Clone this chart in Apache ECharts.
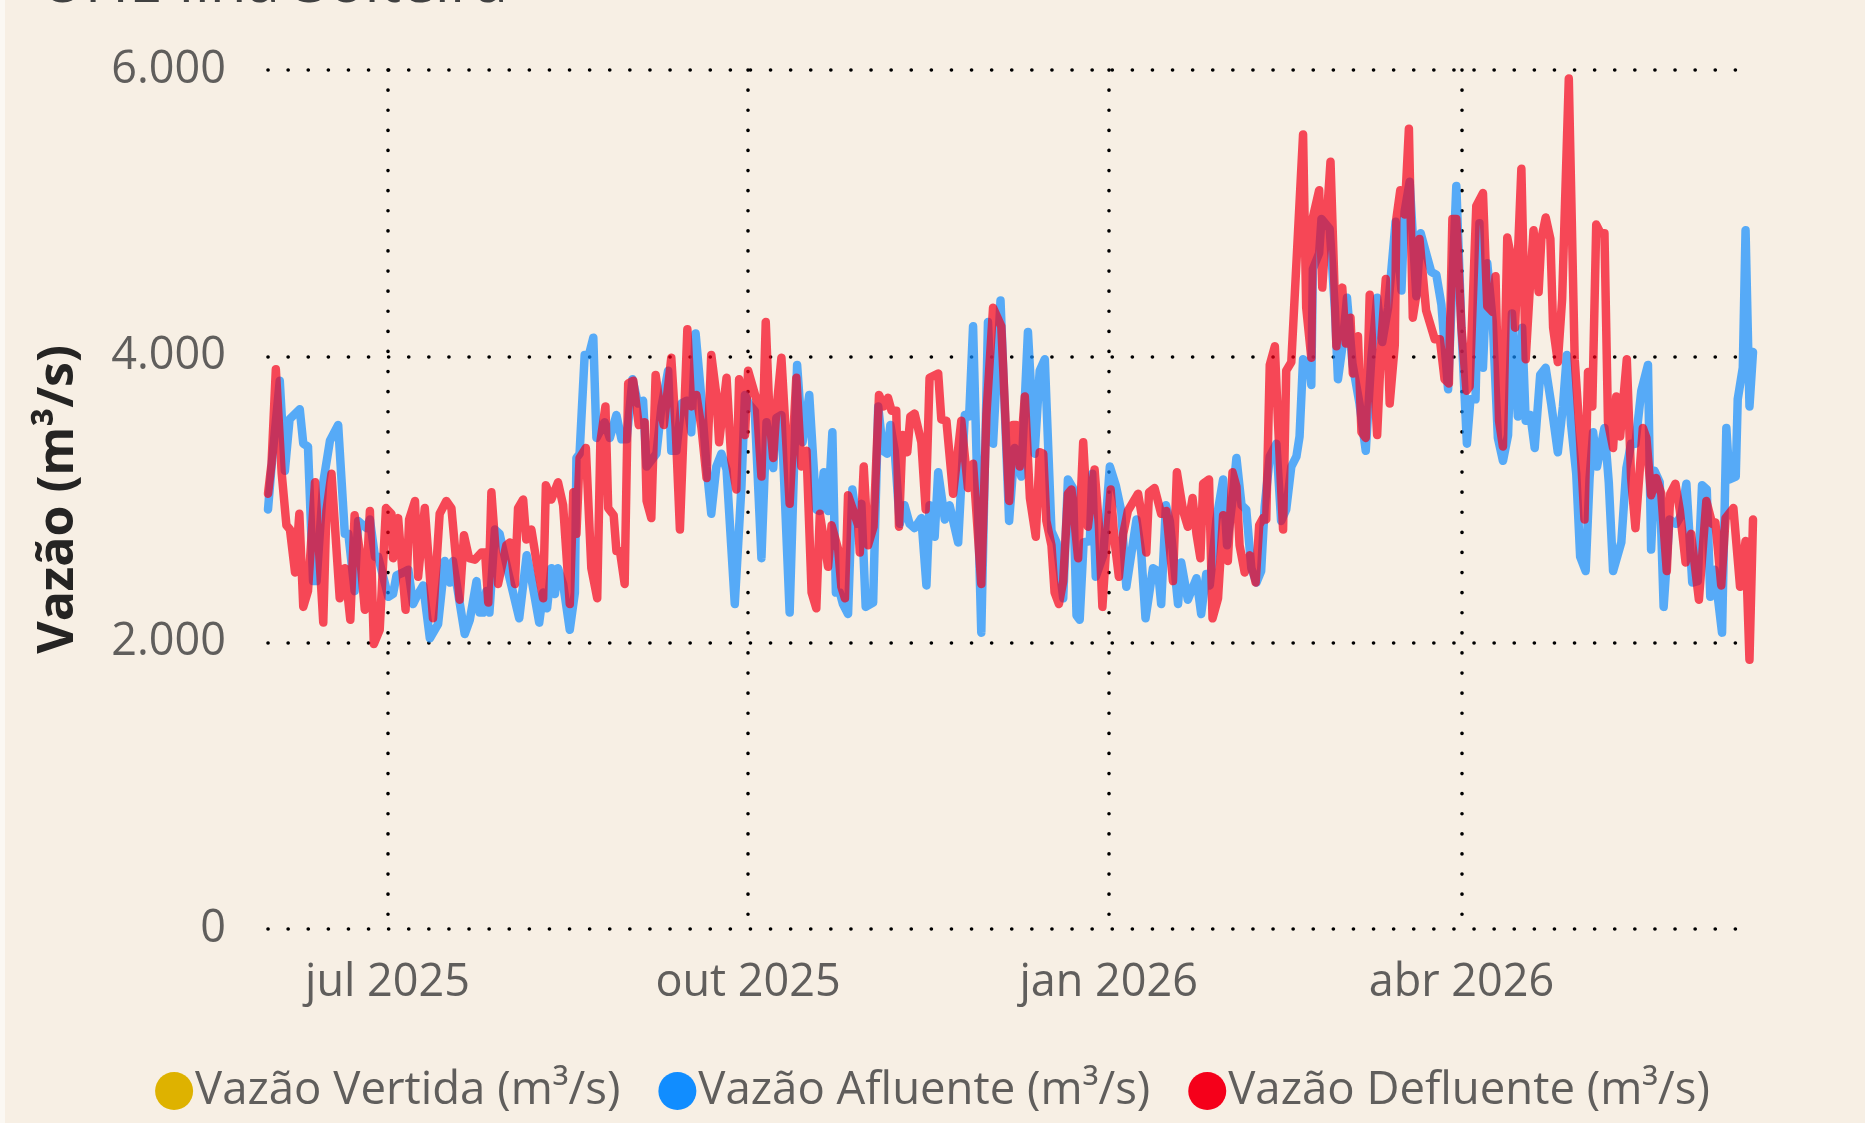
<!DOCTYPE html>
<html>
<head>
<meta charset="utf-8">
<title>UHE Ilha Solteira</title>
<script src="https://cdn.jsdelivr.net/npm/echarts@6/dist/echarts.min.js"></script>
<style>
  html, body { margin: 0; padding: 0; background: #F7EFE4; }
  #grafico { width: 1865px; height: 1123px; }
</style>
</head>
<body>
<div id="grafico"></div>
<script>
// dia 0 = 1 jul 2025; cada par é [dias desde dia 0, vazão m³/s]
const inicio = new Date(2025, 6, 1).getTime()
const DIA = 86400000
const diaDe = d => Math.round((d.getTime() - inicio) / DIA)

const marcosX = [diaDe(new Date(2025, 6, 1)), diaDe(new Date(2025, 9, 1)), diaDe(new Date(2026, 0, 1)), diaDe(new Date(2026, 3, 1))]
const rotulosX = ['jul 2025', 'out 2025', 'jan 2026', 'abr 2026']
const ticksY = [0, 2000, 4000, 6000]

const vertida = [] // sem vertimento no período

const afluente = [
  [-30.5, 2930], [-29.6, 3230], [-27.5, 3830], [-26.2, 3200], [-25, 3560], [-22.4, 3630], [-21.5, 3390], [-20.3, 3370],
  [-19, 2430], [-18.1, 2430], [-16.4, 3120], [-14.7, 3410], [-12.6, 3520], [-10.9, 2760], [-10, 2760], [-8.4, 2360],
  [-7.5, 2850], [-5.4, 2800], [-4.5, 2860], [-3.2, 2600], [-2.4, 2600], [0.2, 2320], [1.4, 2340], [2.3, 2470],
  [4, 2490], [5.3, 2510], [6.5, 2270], [7.4, 2320], [9.1, 2400], [10.8, 2030], [12.9, 2130], [14.6, 2570],
  [15.9, 2420], [16.7, 2570], [19.7, 2060], [21, 2160], [22.7, 2430], [23.5, 2210], [24.4, 2210], [25.2, 2360],
  [26, 2210], [27.4, 2790], [28.6, 2760], [29.9, 2600], [30.8, 2490], [33.6, 2170], [35.5, 2610], [36.7, 2450],
  [38.7, 2140], [39.7, 2350], [40.7, 2240], [41.8, 2520], [42.7, 2340], [43.5, 2520], [44.8, 2410], [46.5, 2090],
  [47.8, 2350], [48.2, 3290], [49, 3320], [50.3, 4010], [51.4, 4010], [52.5, 4130], [53.3, 3430], [55.4, 3540],
  [56.7, 3430], [58.4, 3590], [59.7, 3420], [61, 3420], [62.5, 3840], [63.9, 3670], [65.2, 3690], [66.1, 3230],
  [68.6, 3320], [69.9, 3650], [71.6, 3900], [72.4, 3340], [73.7, 3340], [75, 3670], [76.3, 3690], [77.5, 3470],
  [78.6, 4160], [80.1, 3700], [81.4, 3230], [82.6, 2900], [83.9, 3230], [85.2, 3320], [86.5, 3210], [88.6, 2270],
  [90.3, 3090], [91.2, 3730], [92.4, 3660], [93.7, 3620], [95.4, 2590], [96.7, 3540], [98.4, 3220], [99.2, 3570],
  [100.5, 3590], [102.6, 2210], [104.5, 3940], [105.9, 3400], [107.6, 3730], [109.4, 2930], [110.3, 2920], [111.3, 3190],
  [112.4, 2920], [113.5, 3470], [114.4, 2350], [115.4, 2350], [116.2, 2270], [117.5, 2200], [118.6, 3070], [119.8, 2830],
  [120.9, 2970], [122, 2250], [123.9, 2280], [125.2, 3650], [126.4, 3340], [127.5, 3320], [128.3, 3520], [129.4, 3340],
  [130.7, 2830], [131.9, 2960], [133.2, 2830], [134.5, 2800], [136.2, 2870], [137.5, 2400], [138.3, 2960], [139.6, 2740],
  [140.5, 3190], [142.2, 2860], [143.4, 2960], [145.6, 2700], [147.3, 3590], [148.4, 3580], [149.4, 4210], [151.5, 2070],
  [153.2, 4240], [154.5, 3390], [156.4, 4390], [158.6, 2850], [160, 3360], [161.7, 3160], [163.4, 4170], [165.1, 3320],
  [166.4, 3900], [167.7, 3980], [169.4, 2780], [170.7, 2700], [172.4, 2310], [173.6, 3140], [174.9, 3080], [175.8, 2190],
  [176.6, 2160], [177.6, 2700], [179.2, 2710], [179.8, 3180], [180.7, 2460], [182.6, 2610], [184.3, 3230], [185.8, 3100],
  [187.2, 2920], [188.5, 2390], [191.1, 2860], [192.3, 2630], [193.4, 2170], [195.3, 2520], [196.6, 2500], [197.4, 2270],
  [198.6, 2960], [199.6, 2850], [201.7, 2270], [202.5, 2560], [204.2, 2300], [206.4, 2450], [207.6, 2200], [208.9, 2480],
  [209.8, 2400], [211.5, 2860], [213.2, 3140], [214.2, 2680], [215.6, 3000], [216.6, 3290], [217.9, 2960], [219.1, 2930],
  [220.4, 2520], [221.7, 2420], [222.9, 2500], [223.8, 2950], [225.1, 3300], [226.8, 3390], [228, 2850], [229.3, 2930],
  [230.6, 3230], [231.9, 3300], [232.7, 3440], [233.6, 3980], [235.3, 3920], [235.7, 3800], [236.1, 4610], [237.7, 4720],
  [238.3, 4960], [240.4, 4890], [241.7, 4340], [242.5, 3840], [243.6, 4060], [244.8, 4410], [246.2, 3950], [248, 3670],
  [249.6, 3340], [251, 3980], [252.5, 4410], [253.8, 4100], [255.3, 4340], [257.2, 4940], [258.7, 4460], [259.5, 5010],
  [260.8, 5220], [262.5, 4420], [263.6, 4860], [265, 4720], [266.3, 4590], [267.6, 4570], [268.9, 4360], [270.6, 3770],
  [272.7, 5190], [274, 4200], [275.4, 3390], [276.3, 3700], [277.6, 3700], [278.6, 4930], [279.5, 3920], [280.6, 4650],
  [282, 4240], [283.3, 3430], [284.6, 3270], [285.9, 3450], [286.9, 4300], [288.4, 3580], [289.5, 4200], [290.4, 3550],
  [291.6, 3590], [292.7, 3360], [294.1, 3870], [295.5, 3920], [296.9, 3670], [298.6, 3330], [299.9, 3650], [300.9, 4010],
  [302, 3520], [303.3, 3180], [304.3, 2600], [305.7, 2500], [306.7, 3150], [307.6, 3470], [308.6, 3230], [310.5, 3500],
  [311.6, 3120], [312.7, 2500], [314.8, 2700], [316.1, 3220], [317.3, 3390], [318.4, 3390], [319.9, 3760], [321.6, 3940],
  [322.4, 2650], [323.3, 3200], [324.6, 3120], [325.6, 2250], [327.1, 2860], [328.8, 2830], [330.1, 2890], [331.4, 3110],
  [332.9, 2420], [334.3, 2430], [335.4, 3100], [336.6, 3070], [337.5, 2320], [338.6, 2510], [340.5, 2070], [341.6, 3500],
  [342.4, 3140], [344, 3160], [344.5, 3700], [345.8, 3920], [346.5, 4880], [347.5, 3650], [348.4, 4030]
]

const defluente = [
  [-30.5, 3040], [-29.6, 3250], [-28.5, 3910], [-27, 3180], [-25.8, 2820], [-24.9, 2790], [-23.6, 2490], [-22.5, 2900],
  [-21.5, 2250], [-20.3, 2360], [-18.5, 3120], [-16.4, 2140], [-15.6, 2920], [-14.3, 3180], [-12.2, 2310], [-10.9, 2520],
  [-9.5, 2160], [-8.4, 2890], [-7.1, 2640], [-5.8, 2230], [-4.5, 2920], [-3.5, 1990], [-2, 2090], [-0.4, 2940],
  [1, 2900], [1.4, 2590], [2.7, 2870], [4.6, 2230], [5.5, 2860], [7, 2990], [7.8, 2460], [9.5, 2940],
  [11.6, 2170], [13.3, 2900], [15, 2990], [16.3, 2940], [18.4, 2300], [19.5, 2750], [20.8, 2590], [22.3, 2580],
  [24, 2630], [24.9, 2630], [25.7, 2280], [26.5, 3050], [28.2, 2410], [30.3, 2680], [31.2, 2700], [32.5, 2410],
  [33.3, 2940], [34.6, 3000], [35.4, 2720], [36.7, 2790], [38, 2570], [39.7, 2310], [40.4, 3100], [41.8, 3000],
  [43.5, 3120], [44.8, 2960], [46.5, 2270], [47.4, 3050], [48.2, 2760], [49, 3290], [50.6, 3360], [52, 2520],
  [53.5, 2310], [54.3, 3400], [55.6, 3650], [56.3, 2940], [57.7, 2890], [58.4, 2640], [59.3, 2640], [60.5, 2410],
  [61.4, 3810], [62.7, 3830], [64.1, 3520], [65.6, 3540], [66.1, 2990], [67.3, 2870], [68.4, 3870], [69.5, 3650],
  [70.5, 3520], [72.4, 3990], [73.5, 3510], [74.6, 2790], [76.5, 4190], [77.5, 3650], [78.8, 3730], [80.1, 3500],
  [81.4, 3150], [82.6, 4010], [83.9, 3730], [84.6, 3400], [86.5, 3850], [87.7, 3280], [89, 3070], [89.7, 3840],
  [91.2, 3450], [92, 3900], [94.1, 3700], [95.4, 3160], [96.5, 4240], [97.5, 3560], [98.4, 3290], [99.2, 3620],
  [100.5, 3990], [101.3, 3610], [102.6, 2970], [104.3, 3850], [105.6, 3230], [106.9, 3340], [108.2, 2350], [109.4, 2240],
  [110.3, 2900], [111.1, 2760], [112.4, 2530], [113.3, 2820], [115, 2650], [115.8, 2390], [116.7, 2310], [117.5, 3030],
  [120.1, 2820], [120.5, 2630], [121.5, 3230], [122.6, 2680], [124, 2810], [125.4, 3730], [126.6, 3650], [127.7, 3710],
  [128.6, 3620], [129.8, 3620], [130.5, 2810], [131.4, 3450], [132.6, 3330], [133.4, 3580], [134.5, 3600], [136.2, 3400],
  [137.3, 2930], [138.3, 3850], [140.5, 3880], [141.3, 3560], [142.6, 3550], [144.3, 3040], [146.4, 3550], [148.1, 3080],
  [149.4, 3250], [151.5, 2410], [152.8, 3590], [154.5, 4340], [156.6, 4210], [158.6, 2990], [159.6, 3520], [160.4, 3520],
  [161.3, 3230], [162.6, 3720], [163.9, 3010], [165.4, 2740], [166.4, 3330], [167.3, 3320], [168.1, 2850], [169.4, 2680],
  [170.2, 2350], [171.3, 2270], [172.4, 2430], [173.6, 3040], [174.5, 3070], [176.2, 2590], [177.5, 3400], [178.7, 2810],
  [180.4, 3210], [181.5, 2820], [182.4, 2250], [183.4, 2680], [184.5, 3070], [185.5, 2710], [186.6, 2460], [187.7, 2760],
  [188.9, 2920], [191.5, 3040], [192.8, 2830], [193.6, 2630], [194.3, 3050], [195.7, 3080], [197.4, 2900], [198.7, 2920],
  [200.4, 2430], [201.4, 3190], [203, 2920], [204.2, 2810], [205.4, 3010], [206.4, 2760], [207.4, 2590], [208.1, 3110],
  [209.6, 3140], [210.5, 2170], [211.9, 2310], [213.2, 2890], [214.4, 2570], [215.6, 3190], [216.6, 3090], [217.4, 2680],
  [218.7, 2490], [220, 2610], [221.5, 2420], [222.4, 2820], [223.4, 2870], [224.2, 2860], [225.1, 3940], [226.4, 4070],
  [227.2, 3540], [228.5, 2790], [229.3, 3900], [230.6, 3960], [233.6, 5550], [234.4, 4340], [235.7, 3990], [236.1, 4970],
  [237.7, 5160], [238.5, 4480], [240.6, 5360], [242.1, 4070], [243.6, 4480], [244.5, 4090], [245.7, 4270], [246.3, 3880],
  [247.6, 4140], [248.5, 3470], [249.6, 3430], [250.6, 4430], [251.4, 4000], [252.5, 3450], [253.6, 4120], [254.7, 4540],
  [255.7, 3670], [257, 4080], [257.4, 4960], [258.4, 5160], [259.5, 4990], [260.6, 5590], [261.6, 4270], [262.5, 4430],
  [263.3, 4820], [265, 4320], [267.2, 4120], [268.5, 4120], [269.7, 3840], [270.8, 3810], [271.7, 4960], [272.7, 4960],
  [274, 4200], [275.3, 3760], [276.1, 3790], [277.8, 5050], [279.5, 5140], [280.6, 4350], [282, 4310], [282.7, 4560],
  [283.6, 3550], [284.6, 3370], [285.7, 4830], [287, 4650], [287.7, 4200], [288.4, 4700], [289.3, 5310], [290.4, 3980],
  [291.4, 4450], [292.4, 4880], [293.7, 4450], [294.4, 4820], [295.5, 4970], [296.7, 4820], [297.4, 4200], [298.6, 3960],
  [299.7, 4400], [301.4, 5940], [302.9, 3980], [304.2, 3450], [305.4, 2860], [306.3, 3890], [307.4, 3650], [308.4, 4920],
  [309.5, 4860], [310.5, 4860], [311.4, 3540], [312.7, 3360], [313.5, 3720], [314.5, 3440], [316.2, 3980], [317.3, 3150],
  [318.4, 2800], [320.3, 3500], [321.2, 3430], [322.4, 3030], [323.7, 3150], [325, 3040], [326.4, 2500], [327.3, 3040],
  [328.6, 3110], [329.7, 2930], [331.2, 2560], [332.6, 2760], [334.6, 2300], [336.5, 2990], [338, 2830], [338.8, 2840],
  [340.3, 2400], [341.4, 2870], [343.4, 2940], [345.1, 2390], [346.5, 2710], [347.5, 1880], [348.4, 2860]
]

const fonte = "'Segoe UI', 'Open Sans', sans-serif"
const pontilhado = { color: '#000', width: 3.6, type: [0.1, 20], cap: 'round' }

function milhar (v) {
  return String(v).replace(/\B(?=(\d{3})+(?!\d))/g, '.')
}

function serieLinha (nome, cor, dados) {
  return {
    name: nome,
    type: 'line',
    data: dados,
    showSymbol: false,
    itemStyle: { color: cor },
    lineStyle: { color: cor, width: 8.5, opacity: 0.7, join: 'round', cap: 'round' }
  }
}

const grafico = echarts.init(document.getElementById('grafico'))
grafico.setOption({
  animation: false,
  backgroundColor: '#F7EFE4',
  title: {
    text: 'UHE Ilha Solteira',
    left: 36,
    top: -50,
    textStyle: { fontFamily: fonte, fontSize: 60, fontWeight: 'normal', color: '#404040' }
  },
  graphic: [{
    type: 'rect',
    shape: { x: 0, y: 0, width: 5, height: 1123 },
    style: { fill: '#FBF8F3' }
  }],
  grid: { left: 268, right: 112, top: 70, bottom: 194 },
  legend: {
    left: 'center',
    top: 1063,
    icon: 'circle',
    itemWidth: 38,
    itemHeight: 38,
    itemGap: 38,
    itemStyle: { borderWidth: 0 },
    textStyle: { fontFamily: fonte, fontSize: 45.5, color: '#605E5C', padding: [0, 0, 0, -3] }
  },
  xAxis: {
    type: 'value',
    min: -30.5,
    max: 348.4,
    axisLine: { show: false },
    axisTick: { show: false, customValues: marcosX },
    axisLabel: {
      customValues: marcosX,
      margin: 32,
      fontFamily: fonte,
      fontSize: 45,
      color: '#605E5C',
      formatter: v => rotulosX[marcosX.indexOf(v)] || ''
    },
    splitLine: { show: true, lineStyle: pontilhado }
  },
  yAxis: {
    type: 'value',
    min: ticksY[0],
    max: ticksY[ticksY.length - 1],
    interval: 2000,
    name: 'Vazão (m³/s)',
    nameLocation: 'middle',
    nameGap: 184,
    nameTextStyle: { fontFamily: fonte, fontSize: 50, fontWeight: 'bold', color: '#252423' },
    axisLine: { show: false },
    axisTick: { show: false },
    axisLabel: { margin: 42, fontFamily: fonte, fontSize: 45, color: '#605E5C', formatter: milhar },
    splitLine: { show: true, lineStyle: pontilhado }
  },
  series: [
    { name: 'Vazão Vertida (m³/s)', type: 'line', data: vertida, showSymbol: false, itemStyle: { color: '#DEB200' } },
    serieLinha('Vazão Afluente (m³/s)', '#118DFF', afluente),
    serieLinha('Vazão Defluente (m³/s)', '#F5001A', defluente)
  ]
})
</script>
</body>
</html>
